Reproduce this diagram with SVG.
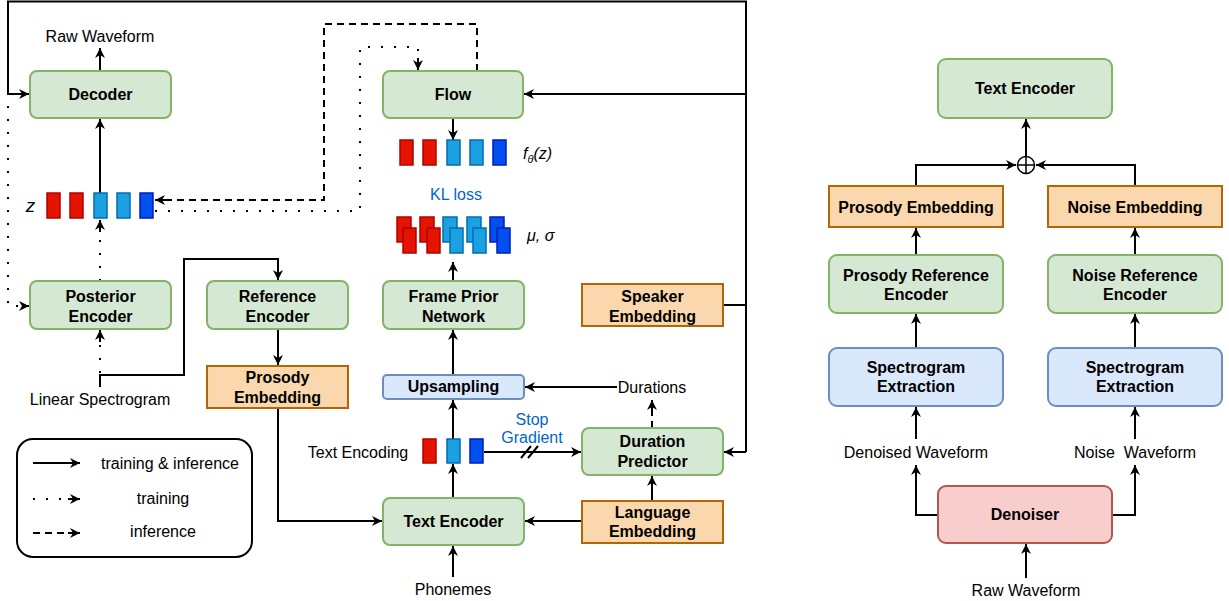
<svg xmlns="http://www.w3.org/2000/svg" width="1229" height="601" viewBox="0 0 1229 601">
<style>
text{font-family:"Liberation Sans",Arial,Helvetica,sans-serif;font-size:16px;fill:#000;text-anchor:middle}
.b{font-weight:bold}
.i{font-style:italic}
.blue{fill:#0066cc}
.g{fill:#d5e8d4;stroke:#82b366;stroke-width:2}
.o{fill:#fad7ac;stroke:#b46504;stroke-width:2}
.bl{fill:#dae8fc;stroke:#6c8ebf;stroke-width:2}
.r{fill:#f8cecc;stroke:#b85450;stroke-width:2}
.ln{fill:none;stroke:#000;stroke-width:2}
.a{marker-end:url(#ah)}
.dash{stroke-dasharray:7 5}
.dot{stroke-dasharray:2 11}
.vr{fill:#e51400;stroke:#b20000;stroke-width:1.5}
.vl{fill:#1ba1e2;stroke:#006eaf;stroke-width:1.5}
.vb{fill:#0050ef;stroke:#001dbc;stroke-width:1.5}
</style>
<defs>
<marker id="ah" viewBox="0 0 12 12" refX="11" refY="6" markerWidth="12" markerHeight="12" orient="auto" markerUnits="userSpaceOnUse">
<path d="M1,1 L11,6 L1,11 L4,6 z" fill="#000"/>
</marker>
</defs>

<g id="connectors">
<path class="ln" d="M746,305 L746,1.5 L8,1.5 L8,94 L29,94" marker-end="url(#ah)"/>
<path class="ln a" d="M746,94 L524,94"/>
<path class="ln" d="M723,305 L746,305 L746,452"/>
<path class="ln a" d="M746,452 L724,452"/>
<path class="ln a" d="M100,71 L100,48"/>
<path class="ln a" d="M100,193 L100,119"/>
<path class="ln dot" d="M8,106 L8,306 L20,306"/>
<path class="ln a" d="M24,306 L29,306"/>
<path class="ln dot" d="M100,281 L100,230"/>
<path class="ln a" d="M100,232 L100,220"/>
<path class="ln dot" d="M100,373 L100,342"/>
<path class="ln a" d="M100,342 L100,330"/>
<path class="ln a" d="M100,387 L100,375 L184,375 L184,259 L278,259 L278,280"/>
<path class="ln a" d="M278,329 L278,365"/>
<path class="ln a" d="M278,408 L278,521 L382,521"/>
<path class="ln dash" d="M477,71 L477,24 L324,24 L324,200 L165,200"/>
<path class="ln a" d="M166,200 L155,200"/>
<path class="ln dot" d="M155,211 L360,211 L360,47 L418,47 L418,58"/>
<path class="ln a" d="M418,58 L418,70"/>
<path class="ln a" d="M453,118 L453,140"/>
<path class="ln a" d="M453,281 L453,262"/>
<path class="ln a" d="M453,375 L453,330"/>
<path class="ln a" d="M453,439 L453,400"/>
<path class="ln a" d="M453,498 L453,464"/>
<path class="ln a" d="M453,577 L453,546"/>
<path class="ln a" d="M617,387 L525,387"/>
<path class="ln dash" d="M652,428 L652,410"/>
<path class="ln a" d="M652,412 L652,400"/>
<path class="ln a" d="M484,452 L581,452"/>
<path class="ln" d="M521,458 L531,446 M528,458 L538,446" stroke-width="1.5"/>
<path class="ln a" d="M582,521 L525,521"/>
<path class="ln a" d="M652,501 L652,476"/>
<path class="ln a" d="M1026,156 L1026,119"/>
<path class="ln a" d="M916,186 L916,165 L1016,165"/>
<path class="ln a" d="M1135,186 L1135,165 L1036,165"/>
<path class="ln a" d="M916,255 L916,228"/>
<path class="ln a" d="M1135,255 L1135,228"/>
<path class="ln a" d="M916,348 L916,314"/>
<path class="ln a" d="M1135,348 L1135,314"/>
<path class="ln a" d="M916,439 L916,407"/>
<path class="ln a" d="M1135,439 L1135,407"/>
<path class="ln a" d="M938,515 L916,515 L916,465"/>
<path class="ln a" d="M1112,515 L1135,515 L1135,465"/>
<path class="ln a" d="M1026,578 L1026,544"/>
</g>

<g id="decoder"><rect class="g" x="30" y="71" width="141" height="47" rx="7"/><text class="b" x="100.5" y="100">Decoder</text></g>
<g id="raw-waveform-label"><text x="100" y="42">Raw Waveform</text></g>
<g id="posterior-encoder"><rect class="g" x="30" y="281" width="141" height="48" rx="7"/><text class="b" x="100.5" y="302">Posterior</text><text class="b" x="100.5" y="322">Encoder</text></g>
<g id="linear-spectrogram"><text x="100" y="405">Linear Spectrogram</text></g>
<g id="reference-encoder"><rect class="g" x="207" y="281" width="141" height="48" rx="7"/><text class="b" x="277.5" y="302">Reference</text><text class="b" x="277.5" y="322">Encoder</text></g>
<g id="prosody-embedding-left"><rect class="o" x="207" y="366" width="141" height="42"/><text class="b" x="277.5" y="383">Prosody</text><text class="b" x="277.5" y="403">Embedding</text></g>

<g id="z-vectors">
<text class="i" x="30.5" y="212" style="font-size:19px">z</text>
<rect class="vr" x="47" y="193" width="13" height="25"/>
<rect class="vr" x="70" y="193" width="13" height="25"/>
<rect class="vl" x="94" y="193" width="13" height="25"/>
<rect class="vl" x="117" y="193" width="13" height="25"/>
<rect class="vb" x="140" y="193" width="13" height="25"/>
</g>

<g id="flow"><rect class="g" x="383" y="71" width="140" height="47" rx="7"/><text class="b" x="453" y="100">Flow</text></g>
<g id="fz-vectors">
<rect class="vr" x="400" y="140" width="13" height="25"/>
<rect class="vr" x="423" y="140" width="13" height="25"/>
<rect class="vl" x="447" y="140" width="13" height="25"/>
<rect class="vl" x="470" y="140" width="13" height="25"/>
<rect class="vb" x="493" y="140" width="13" height="25"/>
<text class="i" x="523" y="159" style="text-anchor:start">f<tspan style="font-size:11px" dy="4">θ</tspan><tspan dy="-4">(z)</tspan></text>
</g>
<g id="kl-loss"><text class="blue" x="456" y="200">KL loss</text></g>
<g id="mu-sigma-vectors">
<rect class="vr" x="397" y="217" width="14" height="25"/><rect class="vr" x="403" y="228" width="13" height="25"/>
<rect class="vr" x="420" y="217" width="14" height="25"/><rect class="vr" x="427" y="228" width="13" height="25"/>
<rect class="vl" x="443" y="217" width="14" height="25"/><rect class="vl" x="450" y="228" width="13" height="25"/>
<rect class="vl" x="467" y="217" width="14" height="25"/><rect class="vl" x="473" y="228" width="13" height="25"/>
<rect class="vb" x="490" y="217" width="14" height="25"/><rect class="vb" x="497" y="228" width="13" height="25"/>
<text class="i" x="527" y="241" style="text-anchor:start">μ, σ</text>
</g>
<g id="frame-prior-network"><rect class="g" x="383" y="281" width="141" height="48" rx="7"/><text class="b" x="453.5" y="302">Frame Prior</text><text class="b" x="453.5" y="322">Network</text></g>
<g id="speaker-embedding"><rect class="o" x="582" y="284" width="141" height="42"/><text class="b" x="652.5" y="302">Speaker</text><text class="b" x="652.5" y="322">Embedding</text></g>
<g id="upsampling"><rect class="bl" x="383" y="375" width="141" height="24" rx="4"/><text class="b" x="453.5" y="392">Upsampling</text></g>
<g id="durations"><text x="652" y="393">Durations</text></g>
<g id="text-encoding">
<text x="358" y="458">Text Encoding</text>
<rect class="vr" x="423" y="439" width="13" height="24"/>
<rect class="vl" x="447" y="439" width="13" height="24"/>
<rect class="vb" x="470" y="439" width="13" height="24"/>
</g>
<g id="stop-gradient"><text class="blue" x="532" y="425">Stop</text><text class="blue" x="532" y="443">Gradient</text></g>
<g id="duration-predictor"><rect class="g" x="582" y="428" width="141" height="47" rx="7"/><text class="b" x="652.5" y="447">Duration</text><text class="b" x="652.5" y="467">Predictor</text></g>
<g id="text-encoder"><rect class="g" x="383" y="498" width="141" height="47" rx="7"/><text class="b" x="453.5" y="527">Text Encoder</text></g>
<g id="language-embedding"><rect class="o" x="582" y="501" width="141" height="42"/><text class="b" x="652.5" y="518">Language</text><text class="b" x="652.5" y="537">Embedding</text></g>
<g id="phonemes"><text x="453" y="595">Phonemes</text></g>

<g id="legend">
<rect x="17" y="439" width="235" height="118" rx="16" fill="#fff" stroke="#000" stroke-width="2"/>
<path class="ln a" d="M33,463 L80,463"/>
<path class="ln dot" d="M33,499 L66,499"/>
<path class="ln a" d="M68,499 L80,499"/>
<path class="ln dash" d="M33,533 L68,533"/>
<path class="ln a" d="M68,533 L80,533"/>
<text x="170" y="469">training &amp; inference</text>
<text x="163" y="504">training</text>
<text x="163" y="537">inference</text>
</g>

<g id="text-encoder-right"><rect class="g" x="938" y="59" width="174" height="59" rx="8"/><text class="b" x="1025" y="94">Text Encoder</text></g>
<g id="sum"><circle cx="1026" cy="165" r="8.5" fill="#fff" stroke="#000" stroke-width="1.5"/><path d="M1017.5,165 H1034.5 M1026,156.5 V173.5" stroke="#000" stroke-width="1.5"/></g>
<g id="prosody-embedding-right"><rect class="o" x="829" y="186" width="174" height="41"/><text class="b" x="916" y="213">Prosody Embedding</text></g>
<g id="noise-embedding"><rect class="o" x="1048" y="186" width="174" height="41"/><text class="b" x="1135" y="213">Noise Embedding</text></g>
<g id="prosody-reference-encoder"><rect class="g" x="829" y="255" width="174" height="58" rx="8"/><text class="b" x="916" y="281">Prosody Reference</text><text class="b" x="916" y="300">Encoder</text></g>
<g id="noise-reference-encoder"><rect class="g" x="1048" y="255" width="174" height="58" rx="8"/><text class="b" x="1135" y="281">Noise Reference</text><text class="b" x="1135" y="300">Encoder</text></g>
<g id="spectrogram-extraction-left"><rect class="bl" x="829" y="348" width="174" height="58" rx="8"/><text class="b" x="916" y="373">Spectrogram</text><text class="b" x="916" y="392">Extraction</text></g>
<g id="spectrogram-extraction-right"><rect class="bl" x="1048" y="348" width="174" height="58" rx="8"/><text class="b" x="1135" y="373">Spectrogram</text><text class="b" x="1135" y="392">Extraction</text></g>
<g id="denoised-waveform"><text x="916" y="458">Denoised Waveform</text></g>
<g id="noise-waveform"><text x="1135" y="458" xml:space="preserve">Noise  Waveform</text></g>
<g id="denoiser"><rect class="r" x="938" y="486" width="174" height="57" rx="8"/><text class="b" x="1025" y="520">Denoiser</text></g>
<g id="raw-waveform-right"><text x="1026" y="596">Raw Waveform</text></g>
</svg>
